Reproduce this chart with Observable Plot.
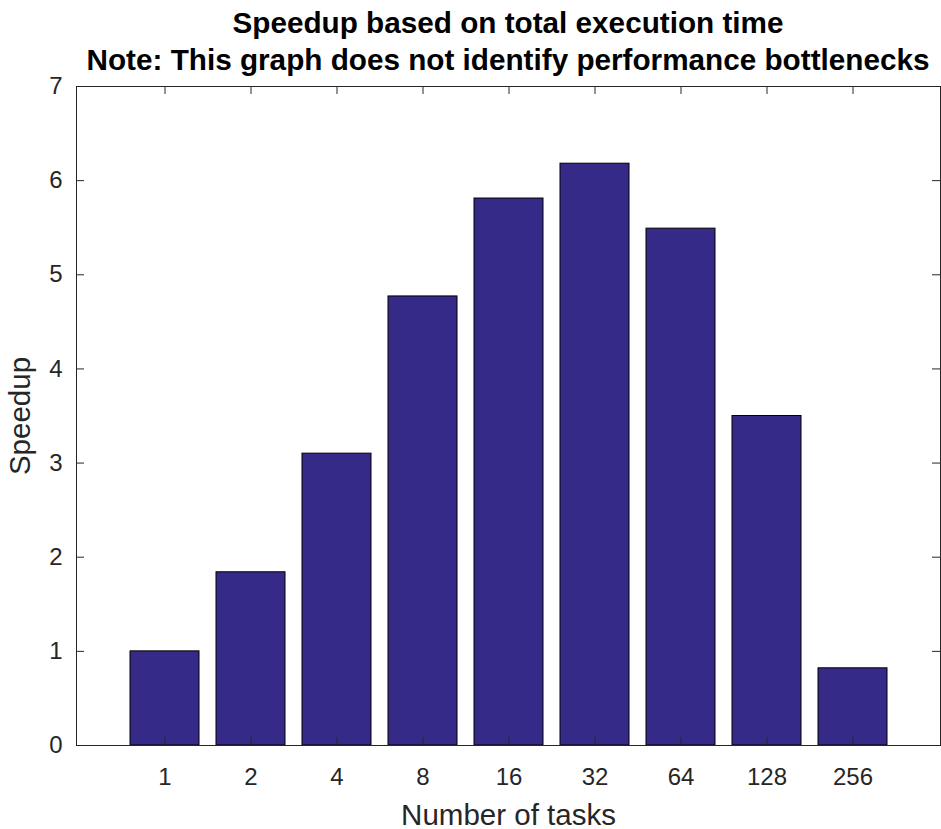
<!DOCTYPE html>
<html>
<head>
<meta charset="utf-8">
<script src="https://cdn.jsdelivr.net/npm/d3@7"></script>
<script src="https://cdn.jsdelivr.net/npm/@observablehq/plot@0.6"></script>
<style>
  html, body { margin: 0; padding: 0; background: #fff; }
  #wrap { width: 941px; height: 829px; font-family: "Liberation Sans", Arial, Helvetica, sans-serif; }
  #title { position: relative; height: 76px; width: 941px; }
  #title div { position: absolute; left: 76px; width: 864px; text-align: center; font-weight: bold; color: #000; white-space: nowrap; line-height: 38px; }
  #t1 { top: 4px; font-size: 29.7px; }
  #t2 { top: 41px; font-size: 29.7px; }
  #chart svg { overflow: visible; }
</style>
</head>
<body>
<div id="wrap">
  <div id="title">
    <div id="t1">Speedup based on total execution time</div>
    <div id="t2">Note: This graph does not identify performance bottlenecks</div>
  </div>
  <div id="chart"></div>
</div>
<script>
const tasks = ["1", "2", "4", "8", "16", "32", "64", "128", "256"];
const speedup = [1.00, 1.84, 3.10, 4.77, 5.81, 6.18, 5.49, 3.50, 0.82];
const yTicks = [0, 1, 2, 3, 4, 5, 6, 7];
const xLabel = "Number of tasks";
const yLabel = "Speedup";

const data = tasks.map((t, i) => ({tasks: t, speedup: speedup[i]}));

const axisColor = "#262626";
const W = 941, H = 753, mT = 10, mB = 84, mL = 76, mR = 1;
const plotW = W - mL - mR, plotH = H - mT - mB;
const tickLen = 8;

const chart = Plot.plot({
  width: W,
  height: H,
  marginTop: mT,
  marginBottom: mB,
  marginLeft: mL,
  marginRight: mR,
  style: {fontFamily: "'Liberation Sans', Arial, Helvetica, sans-serif", fontSize: "24px", color: axisColor, background: "transparent", overflow: "visible"},
  x: {type: "band", domain: tasks, paddingInner: 0.2, paddingOuter: 0.6},
  y: {domain: [0, 7]},
  marks: [
    Plot.barY(data, {x: "tasks", y: "speedup", fill: "#352a87", stroke: "#000", strokeWidth: 1}),
    Plot.frame({stroke: axisColor, strokeWidth: 1}),
    // inward tick marks on all four sides (MATLAB box style)
    Plot.tickX(tasks, {x: d => d, insetTop: plotH - tickLen, stroke: axisColor}),
    Plot.tickX(tasks, {x: d => d, insetBottom: plotH - tickLen, stroke: axisColor}),
    Plot.tickY(yTicks, {y: d => d, insetRight: plotW - tickLen, stroke: axisColor}),
    Plot.tickY(yTicks, {y: d => d, insetLeft: plotW - tickLen, stroke: axisColor}),
    Plot.axisX({tickSize: 0, tickPadding: 22, fontSize: 24, label: xLabel, labelAnchor: "center", labelArrow: "none", labelOffset: 79}),
    Plot.axisY({ticks: yTicks, tickFormat: d3.format("d"), tickSize: 0, tickPadding: 14, fontSize: 24, label: yLabel, labelAnchor: "center", labelArrow: "none", labelOffset: 67})
  ]
});

// enlarge axis titles
chart.querySelectorAll("g[aria-label='x-axis label'] text, g[aria-label='y-axis label'] text").forEach(t => t.setAttribute("font-size", "29.5"));
document.getElementById("chart").appendChild(chart);
</script>
</body>
</html>
